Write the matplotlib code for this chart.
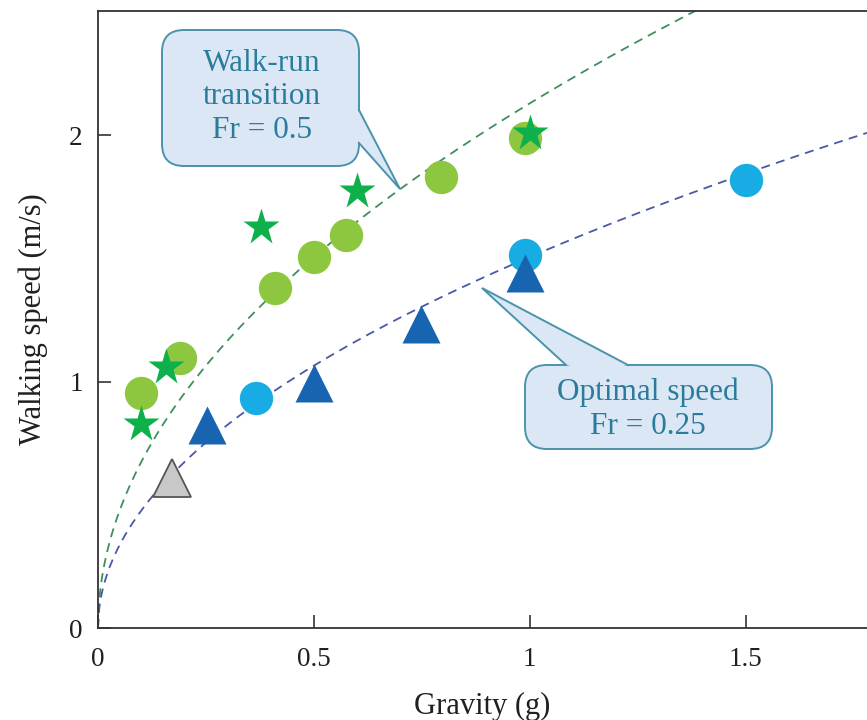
import numpy as np
import matplotlib
matplotlib.use("Agg")
import matplotlib.pyplot as plt
from matplotlib.patches import FancyBboxPatch, Polygon

# ---------------- data ----------------
fr_values = [0.5, 0.25]          # Froude numbers of the two curves
leg_length = 0.925               # m
g_earth = 9.81

green_circle_g = [0.10, 0.19, 0.41, 0.50, 0.575, 0.795, 0.99]
green_circle_v = [0.955, 1.095, 1.38, 1.505, 1.595, 1.83, 1.99]

green_star_g = [0.10, 0.157, 0.377, 0.60, 1.00]
green_star_v = [0.83, 1.06, 1.63, 1.775, 2.01]

blue_circle_g = [0.366, 0.988, 1.50]
blue_circle_v = [0.935, 1.515, 1.82]

blue_tri_g = [0.252, 0.50, 0.748, 0.99]
blue_tri_v = [0.825, 0.995, 1.235, 1.44]

gray_tri_g = [0.171]
gray_tri_v = [0.61]

x_ticks = [0, 0.5, 1, 1.5]
x_tick_labels = ["0", "0.5", "1", "1.5"]
y_ticks = [0, 1, 2]
y_tick_labels = ["0", "1", "2"]

callout1_text = "Walk-run\ntransition\nFr = 0.5"
callout2_text = "Optimal speed\nFr = 0.25"

# ---------------- figure ----------------
plt.rcParams['font.family'] = ['Liberation Serif', 'DejaVu Serif']
fig = plt.figure(figsize=(8.67, 7.2), dpi=100)
ax = fig.add_axes([98/867, 92/720, 769/867, 617/720])
xmax = 769/431.7
ymax = 617/246.3
ax.set_xlim(0, xmax)
ax.set_ylim(0, ymax)

txt_dark = "#231f20"
for s in ["left", "bottom", "top"]:
    ax.spines[s].set_color("#333333")
    ax.spines[s].set_linewidth(1.3)
ax.spines["right"].set_visible(False)

ax.set_xticks(x_ticks)
ax.set_xticklabels(x_tick_labels)
ax.set_yticks(y_ticks)
ax.set_yticklabels(y_tick_labels)
ax.tick_params(direction="in", length=9.5, width=1.2, color="#333333",
               labelsize=19.5, labelcolor=txt_dark, top=False, right=False)
ax.tick_params(axis="x", pad=14)
ax.tick_params(axis="y", pad=11)

ax.set_xlabel("Gravity (g)", fontsize=22, color=txt_dark, labelpad=14)
ax.set_ylabel("Walking speed (m/s)", fontsize=22, color=txt_dark, labelpad=15)

# Froude curves
gg = np.linspace(0, xmax, 600)
curve_colors = ["#3f8f5c", "#4a58aa"]
for fr, c in zip(fr_values, curve_colors):
    v = np.sqrt(fr * gg * g_earth * leg_length)
    ax.plot(gg, v, color=c, lw=1.3, ls=(0, (5, 3.5)), zorder=2, clip_on=True)

# markers
ax.plot(green_circle_g, green_circle_v, 'o', ms=24, color="#8dc63f", mec="none", zorder=3)
ax.plot(blue_circle_g, blue_circle_v, 'o', ms=24, color="#17ace3", mec="none", zorder=3)
ax.plot(green_star_g, green_star_v, '*', ms=28, color="#0db04b", mec="none", zorder=4)
ax.plot(blue_tri_g, blue_tri_v, '^', ms=27, color="#1765b0", mec="none", zorder=4)
ax.plot(gray_tri_g, gray_tri_v, '^', ms=27, color="#c8c8c8", mec="#555555", mew=1.3, zorder=4)

# ---------------- callouts ----------------
box_face = "#dbe7f4"
box_edge = "#4a93ad"
box_text = "#2a7c9c"
aspect = 431.7 / 246.3

def callout(x0, x1, y0, y1, base1, base2, tip, text, tx, ty, inner):
    r = 22 / 431.7
    box = FancyBboxPatch((x0, y0), x1 - x0, y1 - y0,
                         boxstyle=f"round,pad=0,rounding_size={r}",
                         mutation_aspect=aspect,
                         fc=box_face, ec=box_edge, lw=1.4, zorder=6)
    ax.add_patch(box)
    fill = Polygon([base1, tip, base2, inner], closed=True, fc=box_face,
                   ec="none", zorder=7)
    ax.add_patch(fill)
    ax.plot([base1[0], tip[0], base2[0]], [base1[1], tip[1], base2[1]],
            color=box_edge, lw=1.4, zorder=7, solid_joinstyle="miter")
    ax.text(tx, ty, text, ha="center", va="center", fontsize=22.5,
            color=box_text, linespacing=1.22, zorder=8)

def px(xp, yp):
    return ((xp - 98) / 431.7, (628 - yp) / 246.3)

# callout 1
b1 = px(359, 110); b2 = px(359, 143); tip1 = px(400, 189); in1 = px(352, 126)
x0, y1 = px(162, 30); x1, y0 = px(359, 166)
tx, ty = px(262, 97)
callout(x0, x1, y0, y1, b1, b2, tip1, callout1_text, tx, ty, in1)

# callout 2
c1 = px(566, 365); c2 = px(628, 365); tip2 = px(482, 288); in2 = px(597, 372)
x0, y1 = px(525, 365); x1, y0 = px(772, 449)
tx, ty = px(648, 409)
callout(x0, x1, y0, y1, c1, c2, tip2, callout2_text, tx, ty, in2)

fig.savefig("out.png", dpi=100)
